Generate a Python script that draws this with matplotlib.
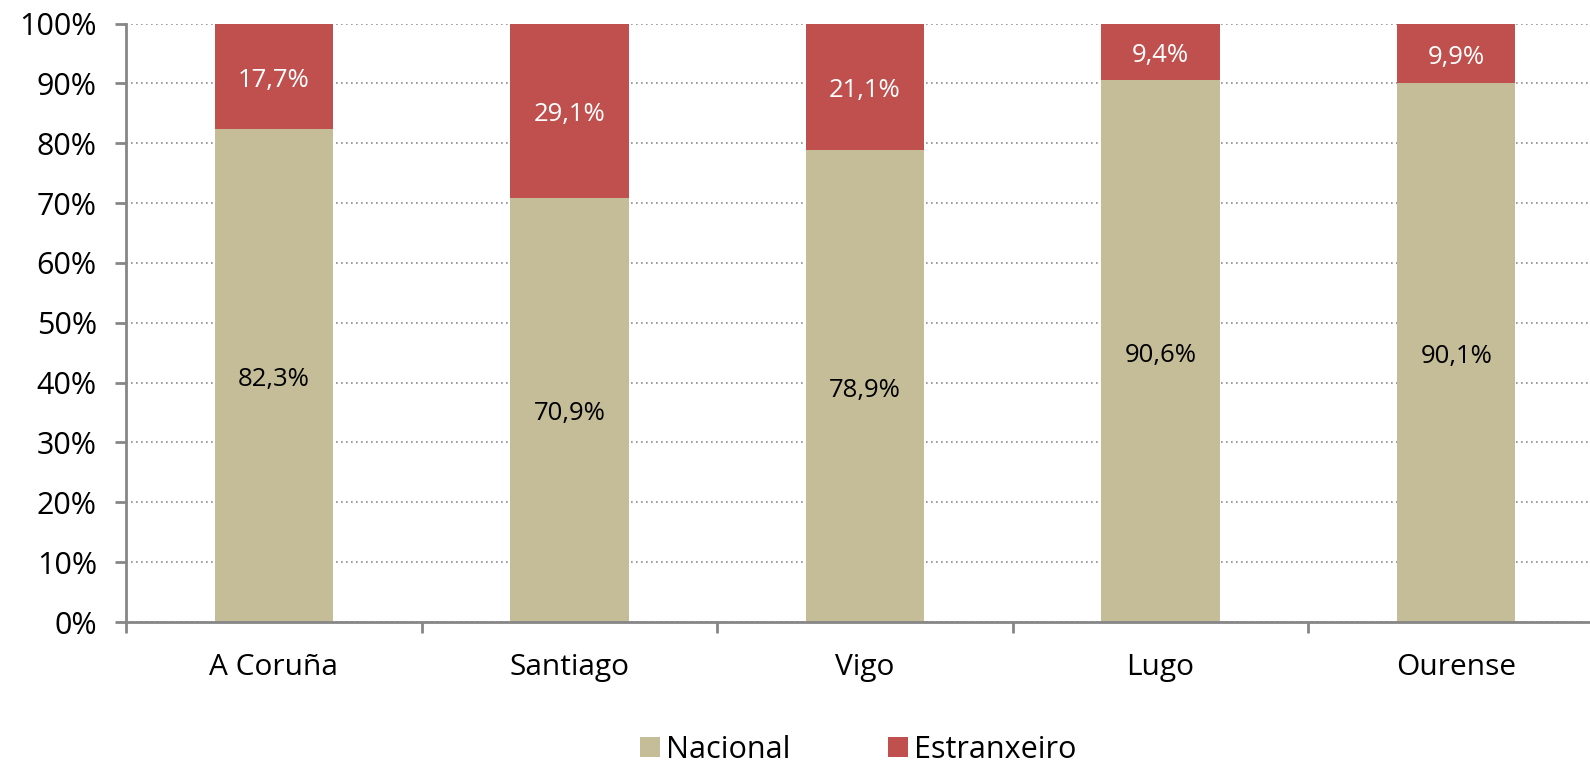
import matplotlib.pyplot as plt
from matplotlib.ticker import FuncFormatter

plt.rcParams['font.family'] = ['Open Sans', 'DejaVu Sans']

categories = ["A Coruña", "Santiago", "Vigo", "Lugo", "Ourense"]
nacional = [82.3, 70.9, 78.9, 90.6, 90.1]
estranxeiro = [17.7, 29.1, 21.1, 9.4, 9.9]
y_ticks = [0, 10, 20, 30, 40, 50, 60, 70, 80, 90, 100]

col_nacional = "#C4BD97"
col_estranxeiro = "#C0504D"
axis_gray = "#868686"


def pct(v):
    return ("%.1f%%" % v).replace(".", ",")


fig = plt.figure(figsize=(15.9, 7.63), dpi=100)
W, H = 1590.0, 763.0
ax = fig.add_axes([126 / W, 1 - 622 / H, 1478 / W, (622 - 23.5) / H])

x = range(len(categories))
b1 = ax.bar(x, nacional, width=0.4, color=col_nacional, label="Nacional", zorder=3)
b2 = ax.bar(x, estranxeiro, width=0.4, bottom=nacional, color=col_estranxeiro,
            label="Estranxeiro", zorder=3)
lab1 = ax.bar_label(b1, labels=[pct(v) for v in nacional], label_type="center",
                    fontsize=18.5, color="black")
lab2 = ax.bar_label(b2, labels=[pct(v) for v in estranxeiro], label_type="center",
                    fontsize=18.5, color="white")
# nudge labels slightly down (Calibri-like placement)
for t in list(lab1) + list(lab2):
    t.set_position((t.get_position()[0], t.get_position()[1] - 3))

ax.set_xlim(-0.5, len(categories) - 0.5)
ax.set_ylim(0, 100)
ax.set_yticks(y_ticks)
ax.yaxis.set_major_formatter(FuncFormatter(lambda v, p: "%d%%" % v))
ax.tick_params(axis="y", labelsize=22, length=8, width=2, color=axis_gray, pad=13)

# category labels at centers, tick marks at the boundaries
ax.set_xticks(list(x))
ax.set_xticklabels(categories, fontsize=21.5)
ax.tick_params(axis="x", which="major", length=0, pad=22)
ax.set_xticks([i - 0.5 for i in range(len(categories) + 1)], minor=True)
ax.tick_params(axis="x", which="minor", length=8, width=2, color=axis_gray)

ax.yaxis.grid(True, color="#8c8c8c", linestyle=(0, (1, 2)), linewidth=1.2, zorder=0)
for side in ["top", "right"]:
    ax.spines[side].set_visible(False)
for side in ["left", "bottom"]:
    ax.spines[side].set_color(axis_gray)
    ax.spines[side].set_linewidth(2)
ax.spines["bottom"].set_zorder(4)

fig.legend(handles=[b1, b2], loc="center", bbox_to_anchor=(0.54, 0.017), ncol=2,
           frameon=False, fontsize=22, handlelength=0.65, handleheight=0.65,
           handletextpad=0.2, columnspacing=3.2)

fig.savefig("out.png", dpi=100)
